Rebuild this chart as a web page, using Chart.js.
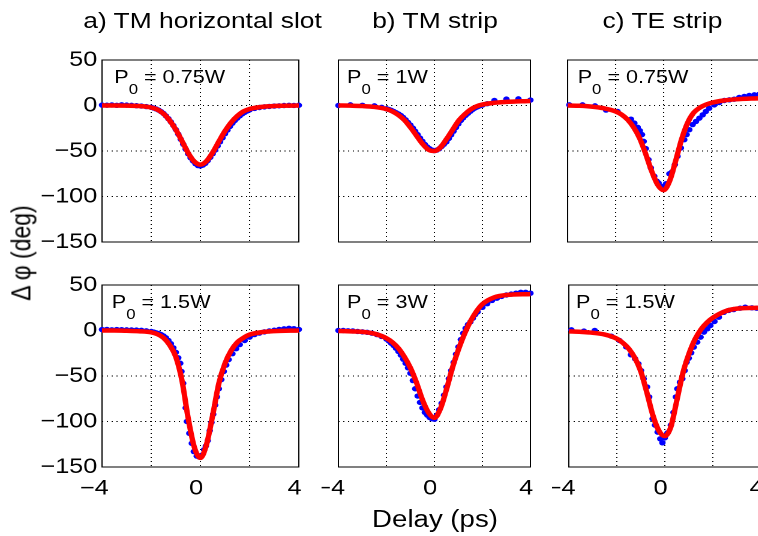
<!DOCTYPE html>
<html lang="en">
<head>
<meta charset="UTF-8">
<title>Phase shift vs delay</title>
<script src="https://cdn.jsdelivr.net/npm/chart.js"></script>
<style>
  html, body { margin: 0; padding: 0; background: #fff; overflow: hidden; }
  #page { position: relative; width: 758px; height: 536px; overflow: hidden; background: #fff; }
  /* the original figure is stretched horizontally, so draw narrow and widen */
  #fig { position: absolute; left: 0; top: 0; width: 632px; height: 536px;
         transform: scaleX(1.2); transform-origin: 0 0;
         font-family: "Liberation Sans", Arial, Helvetica, sans-serif; color: #000; }
  #fig canvas { position: absolute; }
  .txt { position: absolute; white-space: nowrap; line-height: 1; }
</style>
</head>
<body>
<div id="page"><div id="fig"></div></div>
<script>
// delay (ps) where the fitted curves are sampled
const fitDelay = [-4, -3.5, -3, -2.5, -2, -1.75, -1.5, -1.25, -1, -0.75, -0.5, -0.25, 0, 0.25, 0.5, 0.75, 1, 1.25, 1.5, 1.75, 2, 2.5, 3, 4];

// fitted phase (deg), red lines
const fitSlot075 = [0, 0, -0.2, -0.6, -2.2, -4.5, -9, -16.5, -26.5, -39, -52, -61.5, -65, -61, -51.5, -39.5, -28, -18.5, -11.5, -6.5, -3.8, -1.5, -0.5, 0];
const fitStrip1 = [0, -0.2, -0.6, -1.6, -4, -6.5, -10.5, -16, -24, -33, -42, -48.5, -50, -46, -37, -27, -17, -10, -4.5, -1, 1, 3, 4, 5];
const fitTE075 = [0, -0.3, -1.2, -3, -6.5, -10, -15.5, -24, -36, -53, -72, -87, -93, -83, -61, -37, -19, -8, -2.5, 0.8, 3, 5.5, 6.8, 8];
const fitSlot15 = [0, 0, -0.3, -0.8, -2, -4, -8, -16, -29, -55, -96, -128, -140, -125, -93, -58, -36, -22, -13, -8, -4.5, -1.8, -0.7, 0];
const fitStrip3 = [-0.5, -1, -1.5, -3.5, -8.5, -13, -19.5, -29, -41, -57, -76, -90, -96, -86, -65, -41, -21, -4, 10, 21, 29, 36.5, 39, 40];
const fitTE15 = [-1, -1.5, -2.5, -4.5, -9, -13.5, -20, -30, -45, -68, -93, -110, -116, -106, -77, -47, -26, -10, 1, 8.5, 14, 21, 24, 25];

// measured points, blue dots
const dotSlot075X = [-4, -3.8, -3.6, -3.4, -3.2, -3, -2.8, -2.6, -2.4, -2.2, -2,
  -1.9, -1.8, -1.7, -1.6, -1.5, -1.4, -1.3, -1.2, -1.1, -1, -0.9, -0.8, -0.7, -0.6, -0.5, -0.4, -0.3, -0.2, -0.1,
  0, 0.1, 0.2, 0.3, 0.4, 0.5, 0.6, 0.7, 0.8, 0.9, 1, 1.1, 1.2, 1.3, 1.4, 1.5, 1.6, 1.7, 1.8, 1.9,
  2, 2.2, 2.4, 2.6, 2.8, 3, 3.2, 3.4, 3.6, 3.8, 4];
const dotSlot075Y = [0.5, 0.3, 0.6, 0.2, 0.8, 0.4, 0.2, -0.2, -0.6, -1.2, -2,
  -2.8, -3.8, -5, -6.7, -8.8, -11.5, -14.5, -18, -22, -26.5, -31.5, -37, -42.5, -48, -53, -57.5, -61, -64, -66,
  -66.5, -65.5, -63.5, -60.5, -57, -53, -49, -44.5, -40, -35.5, -31, -27, -23, -19.5, -16.5, -13.8, -11.3, -9.2, -7.5, -6,
  -4.8, -3.2, -2.2, -1.5, -1, -0.6, -0.3, 0, 0.2, 0.1, 0.3];

const dotStrip1X = [-4, -3.5, -3, -2.5, -2.2, -2, -1.9, -1.8, -1.7, -1.6, -1.5, -1.4, -1.3, -1.2, -1.1,
  -1, -0.9, -0.8, -0.7, -0.6, -0.5, -0.4, -0.3, -0.2, -0.1, 0, 0.1, 0.2, 0.3, 0.4,
  0.5, 0.6, 0.7, 0.8, 0.9, 1, 1.1, 1.2, 1.3, 1.4, 1.5, 1.6, 1.7, 1.8, 1.9, 2, 2.2, 2.5, 3, 3.5, 4];
const dotStrip1Y = [0, 0.7, 0.2, -0.4, -2, -3.5, -4.3, -5.3, -6.5, -7.9, -9.3, -11, -13.2, -15.7, -18.6,
  -21.5, -24.8, -28.3, -32, -35.8, -39.3, -42.7, -45.5, -47.5, -49, -49.5, -49, -47.5, -45, -42.5,
  -40, -36.2, -32.2, -28.2, -24.2, -20.2, -16.4, -13.6, -10.8, -8.5, -6.3, -4.2, -2.6, -1.4, -0.3, 0.5, 2, 5.5, 7, 7.3, 6];

const dotTE075X = [-3.93, -3.38, -2.86, -2.4, -1.92, -1.36, -1.22, -1.08, -0.99, -0.9, -0.83, -0.74, -0.63, -0.53, -0.39,
  -0.29, -0.21, -0.11, 0, 0.1, 0.24, 0.35, 0.47, 0.58, 0.72, 0.86, 0.96, 1.07, 1.21, 1.35,
  1.49, 1.63, 1.76, 1.9, 2.11, 2.32, 2.53, 2.74, 2.94, 3.15, 3.36, 3.57, 3.78, 3.99];
const dotTE075Y = [0.7, 0.7, -0.4, -5, -6.6, -15, -19.3, -24, -27.7, -32, -39.4, -47.4, -59.5, -68.6, -77.7,
  -83, -85, -88.7, -89.8, -86, -75, -73, -65, -55.8, -46.7, -37.6, -32, -26.6, -21, -17.5,
  -13.9, -10.2, -6.6, -3, 0.7, 3.3, 5.5, 6.2, 6.9, 8.8, 9.9, 11, 11.7, 12.4];

const dotSlot15X = [-4, -3.8, -3.6, -3.4, -3.2, -3, -2.8, -2.6, -2.4, -2.2, -2, -1.9, -1.8, -1.7, -1.6,
  -1.5, -1.4, -1.3, -1.2, -1.1, -1, -0.9, -0.82, -0.77, -0.7, -0.6, -0.55, -0.45, -0.35, -0.27,
  -0.15, -0.05, 0.05, 0.15, 0.22, 0.3, 0.38, 0.45, 0.52, 0.6, 0.67, 0.75, 0.85, 0.95, 1.05,
  1.15, 1.3, 1.45, 1.6, 1.8, 2, 2.2, 2.4, 2.6, 2.8, 3, 3.2, 3.4, 3.6, 3.8, 4];
const dotSlot15Y = [1, 1.2, 0.8, 1, 0.9, 0.7, 0.6, 0.5, 0.2, -0.3, -1, -1.7, -2.5, -3.4, -4.5,
  -6, -8, -11, -14.5, -19, -24, -30, -36, -45, -58, -85, -100, -113, -124, -133,
  -138, -139, -137, -131, -127, -121, -110, -101, -92, -82, -73, -64, -54, -45, -38,
  -32, -25.5, -20, -15.5, -11, -7.3, -4.5, -2.8, -1.5, -0.5, 0.3, 1.2, 1.8, 2.4, 2, 1.2];

const dotStrip3X = [-4, -3.8, -3.6, -3.4, -3.2, -3, -2.8, -2.6, -2.4, -2.2, -2,
  -1.9, -1.8, -1.7, -1.6, -1.5, -1.4, -1.3, -1.2, -1.1, -1, -0.9, -0.8, -0.7, -0.6, -0.5, -0.4, -0.3, -0.2, -0.1,
  0, 0.1, 0.2, 0.3, 0.4, 0.5, 0.6, 0.7, 0.8, 0.9, 1, 1.1, 1.2, 1.3, 1.4, 1.5, 1.6, 1.7, 1.8,
  2, 2.2, 2.4, 2.6, 2.8, 3, 3.2, 3.4, 3.6, 3.8, 4];
const dotStrip3Y = [0, 0, -0.3, -0.5, -1, -1.5, -2, -3, -4.5, -6.5, -9.5,
  -11.5, -14, -16.5, -19.5, -23, -27, -31.5, -36, -41, -47, -55, -64, -72, -79, -85, -90, -93, -95.5, -97,
  -97.5, -93, -87, -80, -71, -62, -53, -44, -35, -26, -18, -10, -3, 2.5, 6.5, 9.5, 13.5, 17.5, 20.5,
  25.5, 29.5, 33, 35.5, 37.5, 39, 40, 41, 42, 42, 41];

const dotTE15X = [-3.89, -3.37, -2.92, -2.23, -1.89, -1.61, -1.41, -1.24, -1.1, -0.99, -0.88, -0.74, -0.65, -0.51, -0.41,
  -0.3, -0.19, -0.1, 0, 0.11, 0.25, 0.36, 0.46, 0.52, 0.63, 0.73, 0.83, 0.91, 1, 1.1,
  1.21, 1.35, 1.49, 1.63, 1.77, 1.9, 2.07, 2.25, 2.46, 2.66, 2.87, 3.14, 3.35, 3.63, 3.83];
const dotTE15Y = [0.7, -0.7, 0, -6.2, -11, -18, -26.7, -31, -36.6, -44, -53, -62, -73, -97, -104,
  -111.7, -119, -123.4, -118, -112.5, -104, -90, -73, -64, -56.8, -53, -44, -34.8, -30.4, -24.5,
  -18.3, -12.8, -7.3, -1.8, 1.8, 5.5, 9.9, 14.6, 20, 22, 23, 24.5, 25.6, 24.9, 24.5];

// axis ticks
const xTicks = [-4, -2, 0, 2, 4];
const xTickLabels = ['\u22124 ', '', '0', '', '4'];
const yTicks = [50, 0, -50, -100, -150];

const titles = ['a) TM horizontal slot', 'b) TM strip', 'c) TE strip'];
const powers = ['0.75W', '1W', '0.75W', '1.5W', '3W', '1.5W'];

const FONT = '"Liberation Sans", Arial, Helvetica, sans-serif';
const fig = document.getElementById('fig');

const pairs = (xs, ys) => xs.map((x, i) => ({ x: x, y: ys[i] }));
const fmt = v => (v < 0 ? '\u2212' + Math.abs(v) : String(v));

// plot boxes, in unstretched px
const panels = [
  { left: 85,  right: 249, top: 60,  bottom: 242, fit: fitSlot075, dx: dotSlot075X, dy: dotSlot075Y, yLab: true,  xLab: false, pLeft: 95.2 },
  { left: 282, right: 442, top: 60,  bottom: 242, fit: fitStrip1,  dx: dotStrip1X,  dy: dotStrip1Y,  yLab: false, xLab: false, pLeft: 289.2 },
  { left: 473, right: 633, top: 60,  bottom: 242, fit: fitTE075,   dx: dotTE075X,   dy: dotTE075Y,   yLab: false, xLab: false, pLeft: 481.4 },
  { left: 85,  right: 249, top: 285, bottom: 467, fit: fitSlot15,  dx: dotSlot15X,  dy: dotSlot15Y,  yLab: true,  xLab: true,  pLeft: 93.1 },
  { left: 282, right: 442, top: 285, bottom: 467, fit: fitStrip3,  dx: dotStrip3X,  dy: dotStrip3Y,  yLab: false, xLab: true,  pLeft: 289.2 },
  { left: 474, right: 634, top: 285, bottom: 467, fit: fitTE15,    dx: dotTE15X,    dy: dotTE15Y,    yLab: false, xLab: true,  pLeft: 480 }
];

const frame = {
  id: 'frame',
  beforeDatasetsDraw(chart) {
    const { ctx, chartArea: a } = chart;
    ctx.save();
    ctx.strokeStyle = '#000';
    ctx.lineWidth = 1;
    ctx.strokeRect(a.left, a.top, a.right - a.left, a.bottom - a.top);
    ctx.restore();
  }
};

function makePanel(p) {
  const ml = p.yLab ? 80 : 14, mb = p.xLab ? 45 : 14, mt = 14, mr = 14;
  const cv = document.createElement('canvas');
  cv.width = p.right - p.left + ml + mr;
  cv.height = p.bottom - p.top + mt + mb;
  cv.style.left = (p.left - ml) + 'px';
  cv.style.top = (p.top - mt) + 'px';
  fig.appendChild(cv);

  new Chart(cv, {
    type: 'scatter',
    data: {
      datasets: [
        { data: pairs(fitDelay, p.fit), showLine: true, borderColor: '#ff0000', borderWidth: 4.5,
          pointRadius: 0, cubicInterpolationMode: 'monotone', clip: false },
        { data: pairs(p.dx, p.dy), showLine: false, pointRadius: 2.7, pointBorderWidth: 0,
          pointBackgroundColor: '#0000ff', clip: false }
      ]
    },
    options: {
      responsive: false,
      animation: false,
      devicePixelRatio: 2,
      layout: { padding: { top: mt, right: mr, left: 0, bottom: 0 } },
      plugins: { legend: { display: false }, tooltip: { enabled: false } },
      scales: {
        x: {
          type: 'linear', min: -4, max: 4,
          afterBuildTicks: s => { s.ticks = xTicks.map(v => ({ value: v })); },
          afterFit: s => { s.height = mb; s.paddingLeft = 0; s.paddingRight = 0; },
          grid: { color: '#000', lineWidth: 1, drawTicks: false },
          border: { display: false, dash: [1, 3] },
          ticks: {
            display: p.xLab, autoSkip: false, maxRotation: 0, padding: 9, labelOffset: -3.5,
            color: '#000', font: { family: FONT, size: 21 },
            callback: v => xTickLabels[xTicks.indexOf(v)]
          }
        },
        y: {
          type: 'linear', min: -150, max: 50,
          afterBuildTicks: s => { s.ticks = yTicks.map(v => ({ value: v })); },
          afterFit: s => { s.width = ml; s.paddingTop = 0; s.paddingBottom = 0; },
          grid: { color: '#000', lineWidth: 1, drawTicks: false },
          border: { display: false, dash: [1, 3] },
          ticks: {
            display: p.yLab, autoSkip: false, padding: 4,
            color: '#000', font: { family: FONT, size: 21 },
            callback: v => fmt(v)
          }
        }
      }
    },
    plugins: [frame]
  });
}

panels.forEach(makePanel);

// plain text: size, x, baseline
function text(html, x, base, size, extra) {
  const d = document.createElement('div');
  d.className = 'txt';
  d.innerHTML = html;
  d.style.fontSize = size + 'px';
  d.style.left = x + 'px';
  d.style.top = (base - 0.8465 * size) + 'px';
  if (extra) d.style.transform = extra;
  fig.appendChild(d);
  return d;
}

text(titles[0], 168.8, 28.3, 22, 'translateX(-50%)');
text(titles[1], 362.5, 28.3, 22, 'translateX(-50%)');
text(titles[2], 552.1, 28.3, 22, 'translateX(-50%)');
text('Delay (ps)', 362.5, 527, 23, 'translateX(-50%)');

const yl = text('\u0394 \u03c6 (deg)', 18, 252.5, 23, 'translate(-50%, -50%) rotate(-90deg)');
yl.style.top = '252.5px';

panels.forEach((p, i) => {
  const base = p.top + 23.2;
  text('P<span style="font-size:14px;position:relative;top:11px">0</span> = ' + powers[i], p.pLeft, base, 18);
});
</script>
</body>
</html>
